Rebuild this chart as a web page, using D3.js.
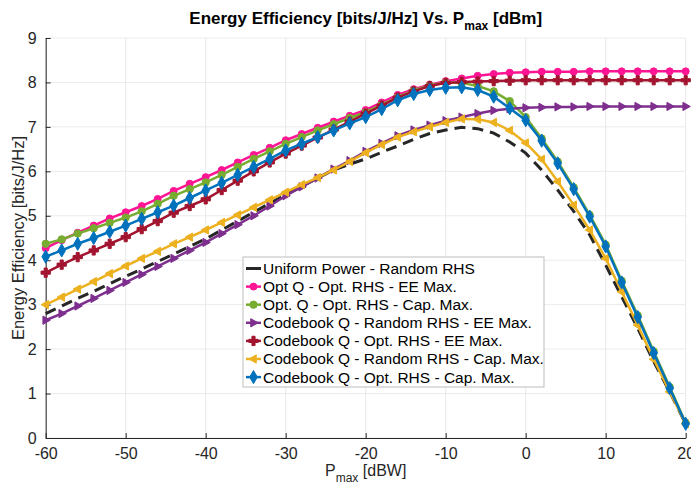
<!DOCTYPE html>
<html>
<head>
<meta charset="utf-8">
<script src="https://cdn.jsdelivr.net/npm/d3@7"></script>
<style>
  body { margin: 0; background: #fff; }
  svg { font-family: "Liberation Sans", Arial, Helvetica, sans-serif; }
</style>
</head>
<body>
<div id="chart"></div>
<script>
//x values (P_max in dBW)
const pmax = [-60,-58,-56,-54,-52,-50,-48,-46,-44,-42,-40,-38,-36,-34,-32,-30,-28,-26,-24,-22,
              -20,-18,-16,-14,-12,-10,-8,-6,-4,-2,0,2,4,6,8,10,12,14,16,18,20];

const uniformRandom = [2.80,2.97,3.14,3.30,3.47,3.64,3.80,3.97,4.14,4.31,4.48,4.68,4.88,5.08,5.28,5.47,5.66,5.85,6.03,6.16,
                       6.28,6.43,6.57,6.72,6.85,6.93,6.99,6.96,6.86,6.66,6.41,6.03,5.58,5.10,4.57,3.89,3.18,2.47,1.72,1.04,0.32];
const optQOptEE     = [4.27,4.45,4.62,4.78,4.94,5.08,5.22,5.38,5.56,5.72,5.87,6.03,6.20,6.37,6.53,6.70,6.84,6.98,7.12,7.25,
                       7.38,7.55,7.72,7.85,7.95,8.03,8.09,8.15,8.19,8.22,8.23,8.24,8.24,8.24,8.25,8.25,8.25,8.25,8.25,8.25,8.25];
const optQOptCap    = [4.37,4.47,4.60,4.72,4.84,4.96,5.10,5.27,5.45,5.60,5.75,5.92,6.10,6.28,6.45,6.62,6.77,6.92,7.06,7.20,
                       7.33,7.50,7.67,7.82,7.93,8.00,7.99,7.92,7.80,7.58,7.22,6.74,6.22,5.64,5.02,4.35,3.54,2.76,1.95,1.15,0.34];
const cbRandomEE    = [2.65,2.80,2.97,3.14,3.32,3.50,3.68,3.86,4.04,4.22,4.40,4.60,4.80,5.00,5.22,5.45,5.65,5.85,6.05,6.24,
                       6.45,6.63,6.80,6.93,7.04,7.14,7.22,7.30,7.37,7.41,7.43,7.44,7.45,7.45,7.46,7.46,7.46,7.46,7.46,7.46,7.46];
const cbOptEE       = [3.72,3.90,4.07,4.22,4.37,4.52,4.70,4.88,5.07,5.22,5.37,5.58,5.79,6.00,6.20,6.40,6.58,6.76,6.94,7.12,
                       7.30,7.48,7.66,7.80,7.92,7.99,8.01,8.02,8.03,8.04,8.05,8.05,8.05,8.05,8.05,8.05,8.05,8.05,8.05,8.05,8.05];
const cbRandomCap   = [3.00,3.17,3.35,3.52,3.70,3.87,4.04,4.20,4.37,4.52,4.68,4.85,5.02,5.19,5.36,5.53,5.70,5.86,6.03,6.22,
                       6.42,6.60,6.77,6.89,7.00,7.10,7.18,7.17,7.10,6.92,6.64,6.27,5.77,5.24,4.68,4.04,3.29,2.54,1.77,1.04,0.32];
const cbOptCap      = [4.08,4.22,4.37,4.50,4.64,4.78,4.93,5.08,5.23,5.40,5.57,5.74,5.92,6.10,6.28,6.47,6.62,6.77,6.92,7.08,
                       7.22,7.40,7.60,7.74,7.83,7.88,7.89,7.83,7.68,7.42,7.15,6.69,6.18,5.60,4.98,4.31,3.50,2.72,1.91,1.12,0.32];

const seriesNames = ["Uniform Power - Random RHS",
                     "Opt Q - Opt. RHS - EE Max.",
                     "Opt. Q - Opt. RHS - Cap. Max.",
                     "Codebook Q - Random RHS - EE Max.",
                     "Codebook Q - Opt. RHS - EE Max.",
                     "Codebook Q - Random RHS - Cap. Max.",
                     "Codebook Q - Opt. RHS - Cap. Max."];
const seriesColors = ["#262626","#FF1493","#77AC30","#7E2F8E","#A2142F","#EDB120","#0072BD"];
const seriesValues = [uniformRandom, optQOptEE, optQOptCap, cbRandomEE, cbOptEE, cbRandomCap, cbOptCap];

const xTicks = [-60,-50,-40,-30,-20,-10,0,10,20];
const yTicks = [0,1,2,3,4,5,6,7,8,9];

//marker shapes, one per series (null = no marker)
const triRight = {draw(ctx, size){ const r = Math.sqrt(size)*0.62; ctx.moveTo(r,0); ctx.lineTo(-r*0.6,-r*0.9); ctx.lineTo(-r*0.6,r*0.9); ctx.closePath(); }};
const triLeft  = {draw(ctx, size){ const r = Math.sqrt(size)*0.62; ctx.moveTo(-r,0); ctx.lineTo(r*0.6,-r*0.9); ctx.lineTo(r*0.6,r*0.9); ctx.closePath(); }};
const markers = [null, d3.symbolCircle, d3.symbolCircle, triRight, d3.symbolCross, triLeft, d3.symbolDiamond];
const markerSizes = [0, 38, 42, 55, 48, 55, 50];

const width = 691, height = 487;
const plot = {left: 45.7, right: 685.7, top: 38, bottom: 438};

let svg = d3.select("#chart").append("svg")
  .attr("width", width)
  .attr("height", height);

let x = d3.scaleLinear().domain([-60, 20]).range([plot.left, plot.right]);
let y = d3.scaleLinear().domain([0, 9]).range([plot.bottom, plot.top]);

//grid
let grid = svg.append("g").attr("class", "grid");
grid.selectAll(".vgrid").data(xTicks).enter().append("line")
  .attr("x1", d => x(d)).attr("x2", d => x(d))
  .attr("y1", plot.top).attr("y2", plot.bottom)
  .style("stroke", "#ebebeb").style("stroke-width", 1);
grid.selectAll(".hgrid").data(yTicks).enter().append("line")
  .attr("x1", plot.left).attr("x2", plot.right)
  .attr("y1", d => y(d)).attr("y2", d => y(d))
  .style("stroke", "#ebebeb").style("stroke-width", 1);

//axes (ticks point inward like matlab)
let fmt = d => String(d).replace("\u2212", "-");
let xAxis = svg.append("g")
  .attr("transform", "translate(0," + plot.bottom + ")")
  .call(d3.axisBottom(x).tickValues(xTicks).tickSizeInner(-5).tickSizeOuter(0).tickPadding(10).tickFormat(fmt));
let yAxis = svg.append("g")
  .attr("transform", "translate(" + plot.left + ",0)")
  .call(d3.axisLeft(y).tickValues(yTicks).tickSizeInner(-5).tickSizeOuter(0).tickPadding(9).tickFormat(fmt));
[xAxis, yAxis].forEach(a => {
  a.select(".domain").style("stroke", "#262626").style("stroke-width", 1);
  a.selectAll(".tick line").style("stroke", "#262626");
  a.selectAll(".tick text").style("font-size", "16px").style("fill", "#262626")
    .style("font-family", "'Liberation Sans', Arial, sans-serif");
});

//lines + markers
let line = d3.line()
  .x((d, i) => x(pmax[i]))
  .y(d => y(d));

let seriesG = svg.selectAll(".series")
  .data(seriesValues)
  .enter().append("g")
  .attr("class", "series");

seriesG.append("path")
  .attr("d", d => line(d))
  .style("fill", "none")
  .style("stroke", (d, i) => seriesColors[i])
  .style("stroke-width", (d, i) => i === 0 ? 3 : 2.5)
  .style("stroke-dasharray", (d, i) => i === 0 ? "11,7" : null);

seriesG.each(function(vals, si){
  if (!markers[si]) return;
  let sym = d3.symbol().type(markers[si]).size(markerSizes[si]);
  d3.select(this).selectAll(".mk")
    .data(vals)
    .enter().append("path")
    .attr("transform", (d, i) => "translate(" + x(pmax[i]) + "," + y(d) + ")")
    .attr("d", sym)
    .style("fill", seriesColors[si])
    .style("stroke", seriesColors[si])
    .style("stroke-width", 1);
});

//title
let title = svg.append("text")
  .attr("x", (plot.left + plot.right) / 2)
  .attr("y", 24)
  .attr("text-anchor", "middle")
  .style("font-size", "17px")
  .style("font-weight", "bold")
  .style("fill", "#000");
title.append("tspan").text("Energy Efficiency [bits/J/Hz] Vs. P");
title.append("tspan").attr("dy", 6).style("font-size", "12px").text("max");
title.append("tspan").attr("dy", -6).text(" [dBm]");

//axis labels
let xl = svg.append("text")
  .attr("x", (plot.left + plot.right) / 2)
  .attr("y", 476)
  .attr("text-anchor", "middle")
  .style("font-size", "16px")
  .style("fill", "#262626");
xl.append("tspan").text("P");
xl.append("tspan").attr("dy", 6).style("font-size", "12px").text("max");
xl.append("tspan").attr("dy", -6).text(" [dBW]");

svg.append("text")
  .attr("transform", "translate(24," + ((plot.top + plot.bottom) / 2) + ") rotate(-90)")
  .attr("text-anchor", "middle")
  .style("font-size", "16.5px")
  .style("fill", "#262626")
  .text("Energy Efficiency [bits/J/Hz]");

//legend
let lg = svg.append("g").attr("transform", "translate(243,257)");
lg.append("rect")
  .attr("width", 301).attr("height", 130)
  .style("fill", "#fff").style("stroke", "#bdbdbd").style("stroke-width", 1);
let rowH = 18.1;
let items = lg.selectAll(".item").data(seriesNames).enter().append("g")
  .attr("transform", (d, i) => "translate(0," + (11.5 + i * rowH) + ")");
items.append("line")
  .attr("x1", 3).attr("x2", 18).attr("y1", 0).attr("y2", 0)
  .style("stroke", (d, i) => seriesColors[i])
  .style("stroke-width", (d, i) => i === 0 ? 3 : 2.5);
items.filter((d, i) => markers[i]).append("path")
  .attr("transform", "translate(10.5,0)")
  .attr("d", (d, i) => d3.symbol().type(markers[seriesNames.indexOf(d)]).size(markerSizes[seriesNames.indexOf(d)])())
  .style("fill", d => seriesColors[seriesNames.indexOf(d)])
  .style("stroke", d => seriesColors[seriesNames.indexOf(d)]);
items.append("text")
  .attr("x", 20).attr("y", 0).attr("dy", "0.35em")
  .style("font-size", "15.5px")
  .style("fill", "#000")
  .text(d => d);
</script>
</body>
</html>
